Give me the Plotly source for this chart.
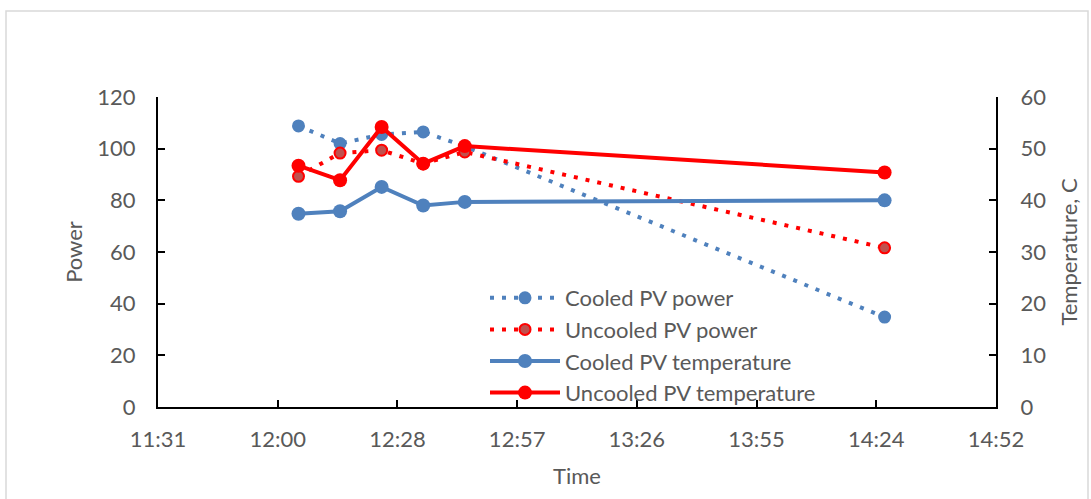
import plotly.graph_objects as go

# Measurement times (same day)
times = ["12:05", "12:15", "12:25", "12:35", "12:45", "14:26"]

# PV output power
cooled_power = [108.8, 102.0, 105.5, 106.5, 100.9, 34.8]
uncooled_power = [89.3, 98.3, 99.4, 94.2, 98.7, 61.6]

# Panel temperature, C
cooled_temp = [37.4, 37.9, 42.6, 39.0, 39.7, 40.0]
uncooled_temp = [46.7, 43.9, 54.2, 47.1, 50.5, 45.4]

DAY = "2024-01-01 "
x = [DAY + t + ":00" for t in times]

BLUE = "#4F81BD"
RED = "#FF0000"
DARKRED = "#C0504D"
TXT = "#595959"
FONT = "Lato, 'Open Sans', sans-serif"

fig = go.Figure()

fig.add_trace(go.Scatter(
    x=x, y=cooled_power, name="Cooled PV power", mode="lines+markers",
    line=dict(color=BLUE, width=4, dash="4px,8px"),
    marker=dict(size=11, color=BLUE, line=dict(color=BLUE, width=2)),
))
fig.add_trace(go.Scatter(
    x=x, y=uncooled_power, name="Uncooled PV power", mode="lines+markers",
    line=dict(color=RED, width=4, dash="4px,8px"),
    marker=dict(size=11, color=DARKRED, line=dict(color=RED, width=2)),
))
fig.add_trace(go.Scatter(
    x=x, y=cooled_temp, name="Cooled PV temperature", mode="lines+markers",
    yaxis="y2",
    line=dict(color=BLUE, width=4),
    marker=dict(size=14, color=BLUE),
))
fig.add_trace(go.Scatter(
    x=x, y=uncooled_temp, name="Uncooled PV temperature", mode="lines+markers",
    yaxis="y2",
    line=dict(color=RED, width=4),
    marker=dict(size=14, color=RED),
))

W, H = 1091, 499
L, R, T, B = 158, 1091 - 996, 97, 499 - 407
pw, ph = W - L - R, H - T - B

axis_common = dict(
    showline=True, linecolor="black", linewidth=2,
    ticks="inside", ticklen=7, tickwidth=2, tickcolor="black",
    showgrid=False, zeroline=False,
    tickfont=dict(size=22, color=TXT, family=FONT),
)

fig.update_layout(
    width=W, height=H,
    margin=dict(l=L, r=R, t=T, b=B),
    paper_bgcolor="white", plot_bgcolor="white",
    font=dict(family=FONT, color=TXT),
    xaxis=dict(
        type="date",
        range=[DAY + "11:31:12", DAY + "14:52:48"],
        tick0=DAY + "11:31:12", dtick=28.8 * 60 * 1000,
        tickformat="%H:%M",
        ticklabelstandoff=12,
        title=dict(text="Time", font=dict(size=22, color=TXT), standoff=17),
        **axis_common,
    ),
    yaxis=dict(
        range=[0, 120], dtick=20,
        ticklabelstandoff=16,
        title=dict(text="Power", font=dict(size=22, color=TXT), standoff=9),
        **axis_common,
    ),
    yaxis2=dict(
        range=[0, 60], dtick=10, overlaying="y", side="right",
        ticklabelstandoff=18,
        title=dict(text="Temperature, C", font=dict(size=22, color=TXT), standoff=16),
        **axis_common,
    ),
    legend=dict(
        x=(485 - L) / pw, y=(407 - 277) / ph, xanchor="left", yanchor="top",
        bgcolor="rgba(0,0,0,0)", itemwidth=70,
        font=dict(size=22, color=TXT, family=FONT),
        tracegroupgap=0,
    ),
    showlegend=True,
    shapes=[dict(
        type="rect", xref="paper", yref="paper", layer="below",
        x0=(6 - L) / pw, x1=(1088 - L) / pw,
        y0=(407 - 505) / ph, y1=(407 - 11) / ph,
        line=dict(color="#D9D9D9", width=1.5), fillcolor="rgba(0,0,0,0)",
    )],
)

fig.write_html("out.html")
